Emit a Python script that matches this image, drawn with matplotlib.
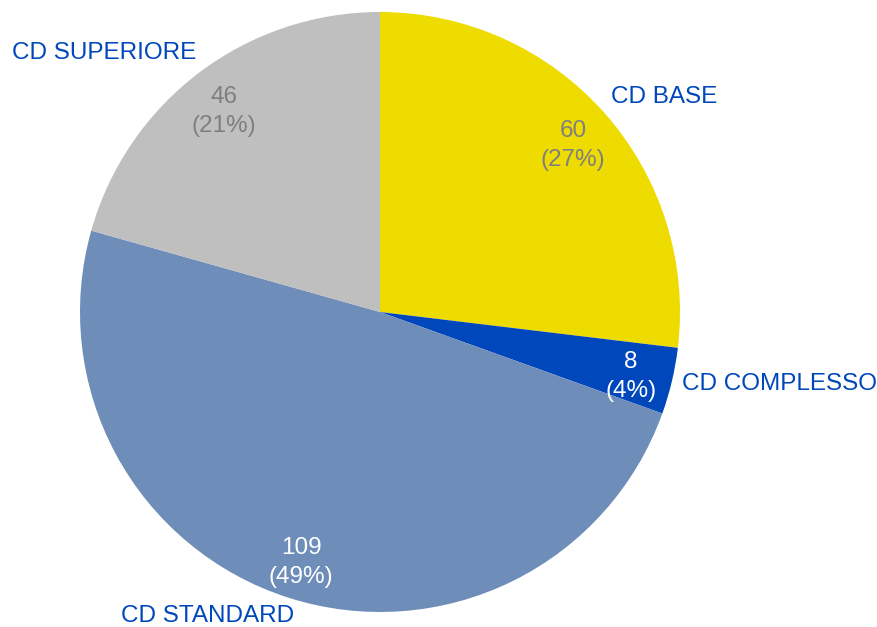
import matplotlib.pyplot as plt

categories = ['CD BASE', 'CD COMPLESSO', 'CD STANDARD', 'CD SUPERIORE']
values = [60, 8, 109, 46]
colors = ['#EEDC00', '#0047BB', '#6E8EB9', '#BFBFBF']
value_colors = ['#7F7F7F', 'white', 'white', '#7F7F7F']

# category label centres, in pixels of the 877x627 picture
label_px = [(664, 97), (780, 384), (208, 616), (104, 53)]

plt.rcParams['font.family'] = ['Liberation Sans', 'DejaVu Sans']

W, H = 877, 627
cx, cy, R = 380, 312, 300

fig = plt.figure(figsize=(W / 100, H / 100), dpi=100)
ax = fig.add_axes([0, 0, 1, 1])

total = sum(values)


def fmt(pct):
    v = int(round(pct * total / 100))
    return '%d\n(%d%%)' % (v, round(pct))


wedges, texts, autotexts = ax.pie(values, colors=colors, startangle=90,
                                  counterclock=False, radius=1,
                                  autopct=fmt, pctdistance=0.86,
                                  wedgeprops=dict(linewidth=0))

ax.set_xlim(-cx / R, (W - cx) / R)
ax.set_ylim((cy - H) / R, cy / R)
ax.set_aspect('equal')
ax.axis('off')

for t, c in zip(autotexts, value_colors):
    x, y = t.get_position()
    t.set_position((x, y - 5 / R))
    t.set_color(c)
    t.set_fontsize(17.5)
    t.set_linespacing(1.4)

for name, (px, py) in zip(categories, label_px):
    ax.text((px - cx) / R, (cy - py) / R, name, color='#0047BB',
            fontsize=17.5, ha='center', va='center')

fig.savefig('out.png', dpi=100)
